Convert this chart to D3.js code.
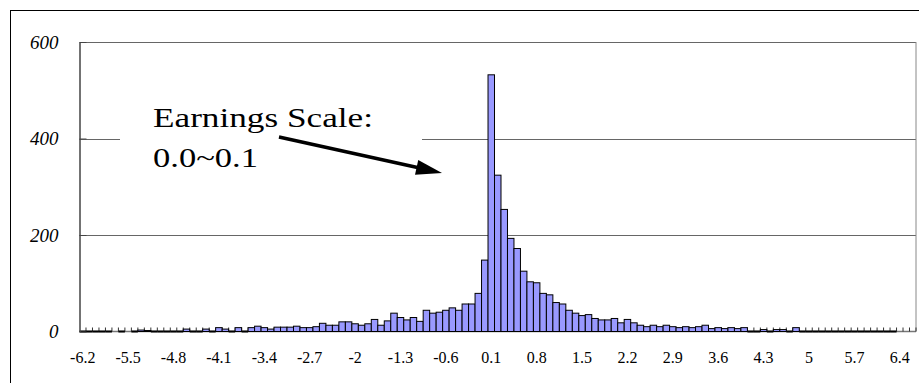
<!DOCTYPE html>
<html lang="en">
<head>
<meta charset="UTF-8">
<title>Earnings distribution</title>
<script src="https://d3js.org/d3.v7.min.js"></script>
<style>
  body { margin: 0; background: #fff; }
  svg { display: block; }
  .lbl { font-family: "Liberation Serif", "Times New Roman", "Liberation Sans", Arial, sans-serif; }
</style>
</head>
<body>
<script>
// bin labels (0.1 wide bins)
const categories = [
  "-6.2","-6.1","-6","-5.9","-5.8","-5.7","-5.6","-5.5","-5.4","-5.3",
  "-5.2","-5.1","-5","-4.9","-4.8","-4.7","-4.6","-4.5","-4.4","-4.3",
  "-4.2","-4.1","-4","-3.9","-3.8","-3.7","-3.6","-3.5","-3.4","-3.3",
  "-3.2","-3.1","-3","-2.9","-2.8","-2.7","-2.6","-2.5","-2.4","-2.3",
  "-2.2","-2.1","-2","-1.9","-1.8","-1.7","-1.6","-1.5","-1.4","-1.3",
  "-1.2","-1.1","-1","-0.9","-0.8","-0.7","-0.6","-0.5","-0.4","-0.3",
  "-0.2","-0.1","0","0.1","0.2","0.3","0.4","0.5","0.6","0.7",
  "0.8","0.9","1","1.1","1.2","1.3","1.4","1.5","1.6","1.7",
  "1.8","1.9","2","2.1","2.2","2.3","2.4","2.5","2.6","2.7",
  "2.8","2.9","3","3.1","3.2","3.3","3.4","3.5","3.6","3.7",
  "3.8","3.9","4","4.1","4.2","4.3","4.4","4.5","4.6","4.7",
  "4.8","4.9","5","5.1","5.2","5.3","5.4","5.5","5.6","5.7",
  "5.8","5.9","6","6.1","6.2","6.3","6.4","6.5","6.6"
];

// counts per bin (null = no data in that bin)
const counts = [
  0, 0, 0, 0, 0, null, 0, null, 0, 3,
  2, 0, 0, 0, 0, 0, 5, 0, 0, 5,
  0, 8, 5, 0, 8, 0, 8, 11, 8, 5,
  9, 9, 9, 11, 8, 8, 10, 17, 13, 13,
  20, 20, 16, 13, 16, 25, 13, 22, 38, 29,
  24, 29, 21, 44, 38, 40, 44, 49, 44, 57,
  57, 79, 148, 532, 324, 253, 193, 172, 125, 103,
  101, 79, 76, 60, 57, 44, 38, 33, 35, 27,
  24, 24, 27, 18, 25, 18, 13, 10, 13, 10,
  13, 10, 8, 10, 8, 10, 13, 6, 8, 6,
  8, 6, 8, 0, 0, 4, 0, 4, 4, 0,
  8, 0, 0, 0, 0, 0, 0, 0, 0, 0,
  0, 0, 0, 0, 0, 0, null, null, null
];

const xTickLabels = ["-6.2","-5.5","-4.8","-4.1","-3.4","-2.7","-2","-1.3","-0.6",
  "0.1","0.8","1.5","2.2","2.9","3.6","4.3","5","5.7","6.4"];
const yTicks = [0, 200, 400, 600];

const W = 919, H = 383;
const plot = { left: 79.5, right: 916, top: 42, bottom: 331.5 };

const svg = d3.select("body").append("svg")
  .attr("width", W).attr("height", H);

// outer frame
svg.append("rect")
  .attr("x", 10.5).attr("y", 10.5)
  .attr("width", 920).attr("height", 400)
  .attr("fill", "none").attr("stroke", "#000").attr("stroke-width", 1);

const x = d3.scaleBand().domain(categories)
  .range([plot.left, plot.right]).paddingInner(0).paddingOuter(0);
const y = d3.scaleLinear().domain([0, 600]).range([plot.bottom, plot.top]);

// gridlines
svg.append("g").selectAll("line")
  .data(yTicks.filter(d => d > 0))
  .join("line")
  .attr("x1", plot.left).attr("x2", plot.right)
  .attr("y1", d => Math.round(y(d)) + 0.5).attr("y2", d => Math.round(y(d)) + 0.5)
  .attr("stroke", "#666").attr("stroke-width", 1);

// plot area right border
svg.append("line")
  .attr("x1", plot.right).attr("x2", plot.right)
  .attr("y1", y(600)).attr("y2", plot.bottom)
  .attr("stroke", "#888").attr("stroke-width", 1);

// x axis line + ticks between bins (pointing up)
svg.append("line")
  .attr("x1", plot.left).attr("x2", plot.right)
  .attr("y1", plot.bottom).attr("y2", plot.bottom)
  .attr("stroke", "#777").attr("stroke-width", 1.5);

svg.append("g").selectAll("line")
  .data(categories.slice(1).concat(["__end"]))
  .join("line")
  .attr("x1", d => d === "__end" ? plot.right : x(d))
  .attr("x2", d => d === "__end" ? plot.right : x(d))
  .attr("y1", plot.bottom).attr("y2", plot.bottom - 4)
  .attr("stroke", "#333").attr("stroke-width", 1);

// bars
const bins = categories.map((c, i) => ({ c, v: counts[i] }));
svg.append("g").selectAll("rect")
  .data(bins.filter(d => d.v > 0))
  .join("rect")
  .attr("x", d => x(d.c))
  .attr("y", d => y(d.v))
  .attr("width", x.bandwidth())
  .attr("height", d => y(0) - y(d.v))
  .attr("fill", "#9999ff")
  .attr("stroke", "#000").attr("stroke-width", 1);

// zero-height bars show only their border on the baseline
svg.append("g").selectAll("line")
  .data(bins.filter(d => d.v === 0))
  .join("line")
  .attr("x1", d => x(d.c)).attr("x2", d => x(d.c) + x.bandwidth())
  .attr("y1", plot.bottom).attr("y2", plot.bottom)
  .attr("stroke", "#000").attr("stroke-width", 2);

// y axis
const yAxis = svg.append("g")
  .attr("transform", `translate(${plot.left},0)`)
  .call(d3.axisLeft(y).tickValues(yTicks).tickSizeInner(-7).tickSizeOuter(0).tickPadding(21));
yAxis.attr("font-family", null).attr("font-size", null);
yAxis.select(".domain").attr("stroke", "#444").attr("stroke-width", 1.5);
yAxis.selectAll(".tick line").attr("stroke", "#444");
yAxis.selectAll(".tick text")
  .attr("class", "lbl")
  .style("font-style", "italic")
  .style("font-size", "19px")
  .attr("fill", "#000");

// x tick labels
svg.append("g").selectAll("text")
  .data(xTickLabels)
  .join("text")
  .attr("class", "lbl")
  .attr("x", d => x(d) + x.bandwidth() / 2)
  .attr("y", 363)
  .attr("text-anchor", "middle")
  .style("font-size", "16px")
  .attr("fill", "#000")
  .text(d => d);

// annotation box
svg.append("rect")
  .attr("x", 120).attr("y", 95)
  .attr("width", 302).attr("height", 90)
  .attr("fill", "#fff");

const note = svg.append("g")
  .attr("class", "lbl")
  .style("font-size", "27px")
  .attr("fill", "#000");
note.append("text").attr("x", 153).attr("y", 127)
  .attr("textLength", 220).attr("lengthAdjust", "spacingAndGlyphs")
  .text("Earnings Scale:");
note.append("text").attr("x", 153).attr("y", 167)
  .attr("textLength", 105).attr("lengthAdjust", "spacingAndGlyphs")
  .text("0.0~0.1");

// arrow
const a0 = [279, 137], a1 = [442, 173];
const dx = a1[0] - a0[0], dy = a1[1] - a0[1];
const len = Math.hypot(dx, dy), ux = dx / len, uy = dy / len;
const headLen = 26, headHalf = 7.5;
const base = [a1[0] - ux * headLen, a1[1] - uy * headLen];
svg.append("line")
  .attr("x1", a0[0]).attr("y1", a0[1])
  .attr("x2", base[0] + ux * 2).attr("y2", base[1] + uy * 2)
  .attr("stroke", "#000").attr("stroke-width", 3.5);
svg.append("path")
  .attr("d", `M${a1[0]},${a1[1]}L${base[0] - uy * headHalf},${base[1] + ux * headHalf}L${base[0] + uy * headHalf},${base[1] - ux * headHalf}Z`)
  .attr("fill", "#000");
</script>
</body>
</html>
